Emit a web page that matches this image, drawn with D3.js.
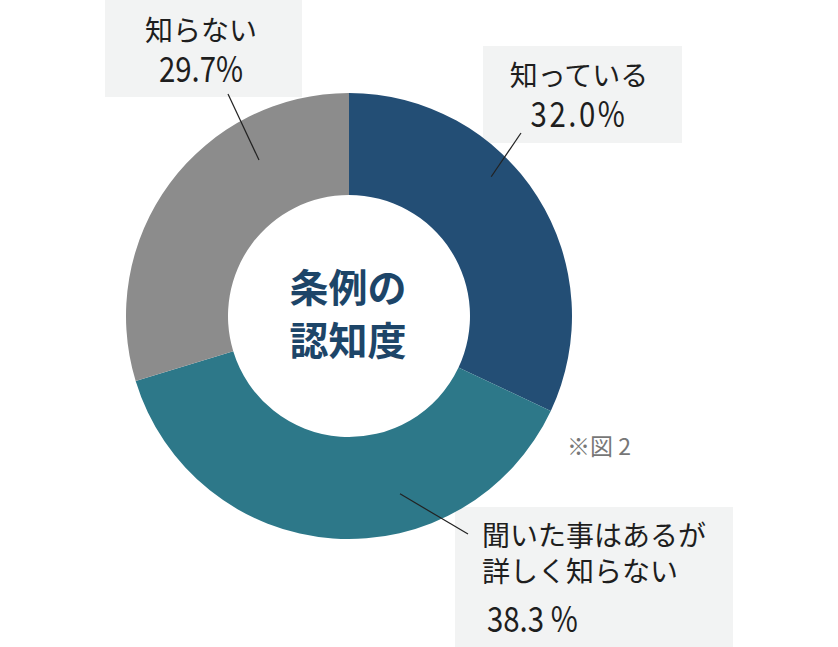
<!DOCTYPE html>
<html>
<head>
<meta charset="utf-8">
<script src="https://cdn.jsdelivr.net/npm/d3@7"></script>
<style>
  body { margin: 0; background: #fff; }
  svg { display: block; font-family: "Noto Sans CJK JP", "Noto Sans", sans-serif; }
</style>
</head>
<body>
<div id="chart"></div>
<script>
// data
const categories = ["知っている", "聞いた事はあるが詳しく知らない", "知らない"];
const values = [32.0, 38.3, 29.7];
const valueLabels = ["32.0%", "38.3 %", "29.7%"];
const colors = ["#234e75", "#2d7889", "#8c8c8c"];
const centerTitle = ["条例の", "認知度"];
const note = "※図 2";

// layout of the callout boxes (not data)
const callouts = [
  { box: [483, 46, 199, 97], lines: ["知っている"], anchor: "middle", tx: 579, ty: [86, 127],
    leader: { angle: 45.6, r: 199, to: [521, 133] }, spacing: 3 },
  { box: [455, 507, 278, 140], lines: ["聞いた事はあるが", "詳しく知らない"], anchor: "start", tx: 482, ty: [546, 582, 632],
    leader: { angle: 164, r: 185, to: [468, 534] }, spacing: 0 },
  { box: [105, 0, 197, 97], lines: ["知らない"], anchor: "middle", tx: 201, ty: [41, 82],
    leader: { angle: 330, r: 180, to: [228, 94] }, spacing: 0 }
];

const width = 838, height = 647;
const cx = 349, cy = 316;
const outerR = 223, innerR = 121;

const svg = d3.select("#chart").append("svg")
  .attr("width", width)
  .attr("height", height);

// label boxes go under the donut
svg.selectAll("rect.box")
  .data(callouts)
  .enter().append("rect")
  .attr("class", "box")
  .attr("x", d => d.box[0])
  .attr("y", d => d.box[1])
  .attr("width", d => d.box[2])
  .attr("height", d => d.box[3])
  .attr("fill", "#f2f3f3");

const pie = d3.pie().sort(null).value(d => d);
const arc = d3.arc().innerRadius(innerR).outerRadius(outerR);

const g = svg.append("g").attr("transform", `translate(${cx},${cy})`);

g.selectAll("path")
  .data(pie(values))
  .enter().append("path")
  .attr("d", arc)
  .attr("fill", (d, i) => colors[i]);

// center title
g.selectAll("text.title")
  .data(centerTitle)
  .enter().append("text")
  .attr("class", "title")
  .attr("x", -1)
  .attr("y", (d, i) => -14 + i * 53)
  .attr("text-anchor", "middle")
  .attr("font-size", 39)
  .attr("font-weight", "bold")
  .attr("fill", "#1d4568")
  .text(d => d);

// leader lines
svg.selectAll("line.leader")
  .data(callouts)
  .enter().append("line")
  .attr("class", "leader")
  .attr("x1", d => cx + d3.pointRadial(d.leader.angle * Math.PI / 180, d.leader.r)[0])
  .attr("y1", d => cy + d3.pointRadial(d.leader.angle * Math.PI / 180, d.leader.r)[1])
  .attr("x2", d => d.leader.to[0])
  .attr("y2", d => d.leader.to[1])
  .attr("stroke", "#222")
  .attr("stroke-width", 1.2);

// callout texts
callouts.forEach((c, i) => {
  c.lines.forEach((t, j) => {
    svg.append("text")
      .attr("x", c.tx)
      .attr("y", c.ty[j])
      .attr("text-anchor", c.anchor)
      .attr("font-size", 28)
      .attr("fill", "#1e1e1e")
      .text(t);
  });
  // numbers are tall and narrow in the original
  svg.append("g")
    .attr("transform", `translate(${c.anchor === "start" ? c.tx + 5 : c.tx},${c.ty[c.lines.length]}) scale(0.84,1)`)
    .append("text")
    .attr("text-anchor", c.anchor)
    .attr("font-size", 35)
    .attr("letter-spacing", c.spacing)
    .attr("fill", "#1e1e1e")
    .text(valueLabels[i]);
});

svg.append("text")
  .attr("x", 567)
  .attr("y", 455)
  .attr("font-size", 23)
  .attr("fill", "#777")
  .text(note);
</script>
</body>
</html>
